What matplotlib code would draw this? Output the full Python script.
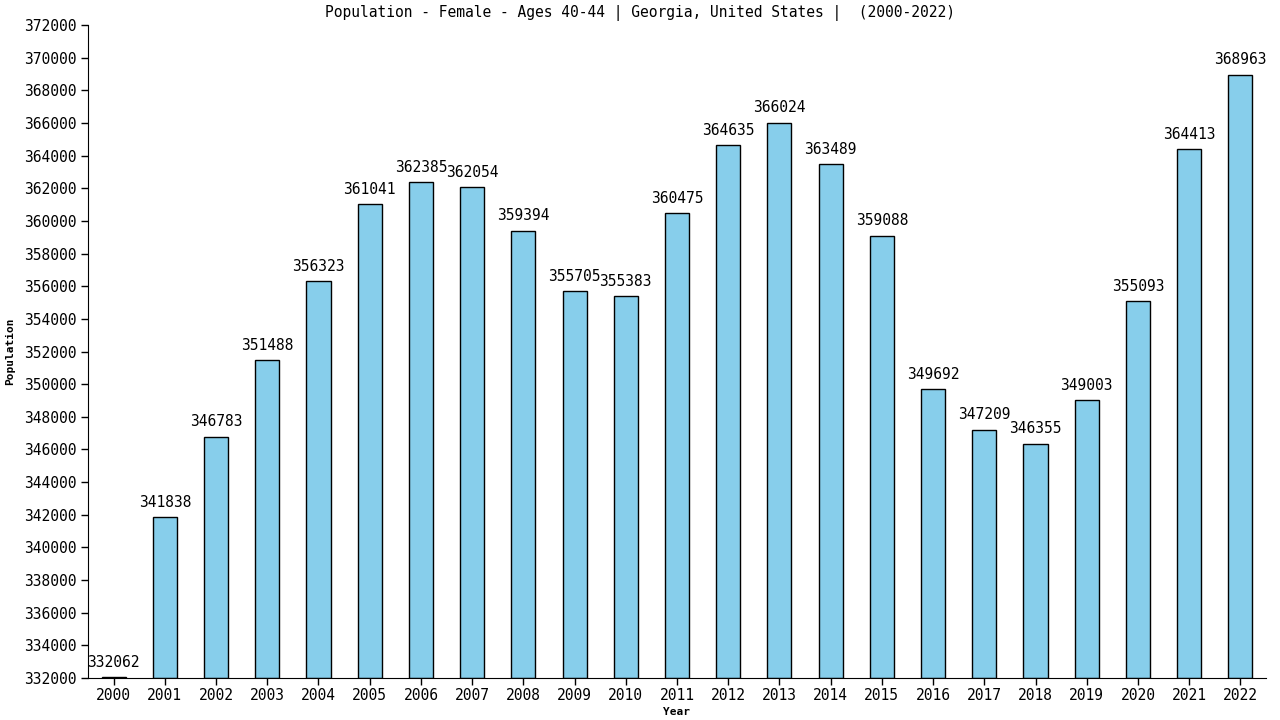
import matplotlib
matplotlib.use("Agg")
import matplotlib.pyplot as plt

# data
years = [str(y) for y in range(2000, 2023)]
population = [332062, 341838, 346783, 351488, 356323, 361041, 362385, 362054,
              359394, 355705, 355383, 360475, 364635, 366024, 363489, 359088,
              349692, 347209, 346355, 349003, 355093, 364413, 368963]
yticks = list(range(332000, 372001, 2000))

plt.rcParams['font.family'] = ['DejaVu Sans Mono']

fig = plt.figure(figsize=(12.8, 7.2), dpi=100)
ax = fig.add_axes([0.06875, 0.0583, 0.9203, 0.907])

x = range(len(years))
ax.bar(x, [p - 332000 for p in population], bottom=332000, width=0.47,
       color='#87ceeb', edgecolor='black', linewidth=1.0)

# value labels on top of every bar
for i, p in enumerate(population):
    ax.text(i, p + 450, str(p), ha='center', va='bottom', fontsize=10.5)

ax.set_xlim(-0.5, len(years) - 0.5)
ax.set_ylim(332000, 372000)
ax.set_xticks(list(x))
ax.set_xticklabels(years, fontsize=10.5)
ax.set_yticks(yticks)
ax.set_yticklabels([str(t) for t in yticks], fontsize=10.5)
ax.tick_params(axis='both', direction='out', length=5, width=1)
ax.tick_params(axis='x', pad=2)

ax.spines['top'].set_visible(False)
ax.spines['right'].set_visible(False)

ax.set_xlabel('Year', fontsize=8, fontweight='bold', labelpad=3)
ax.set_ylabel('Population', fontsize=8, fontweight='bold', labelpad=6)
fig.text(0.5, 0.982, 'Population - Female - Ages 40-44 | Georgia, United States |  (2000-2022)',
         ha='center', va='center', fontsize=10.5)

fig.savefig('out.png', dpi=100)
